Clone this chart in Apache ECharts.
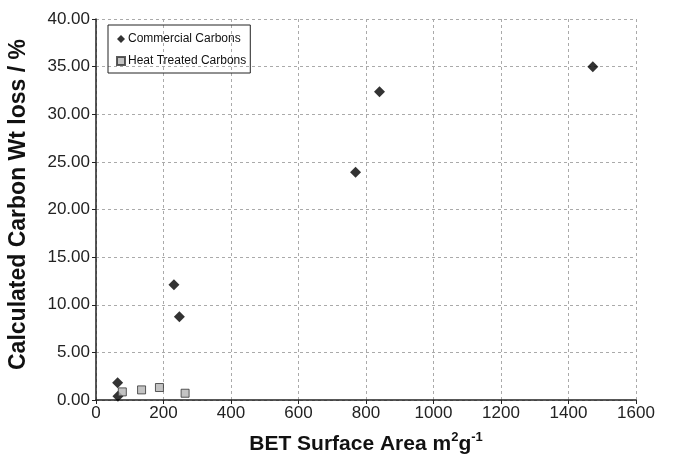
<!DOCTYPE html>
<html>
<head>
<meta charset="utf-8">
<script src="https://cdn.jsdelivr.net/npm/echarts@6/dist/echarts.min.js"></script>
<style>
html,body{margin:0;padding:0;background:#fff;}
#chart{width:680px;height:460px;}
</style>
</head>
<body>
<div id="chart"></div>
<script>
// 数据
var commercialArea = [1472, 840, 769, 231, 247, 64, 65];
var commercialLoss = [35.0, 32.35, 23.9, 12.1, 8.75, 1.8, 0.4];
var heatArea = [78, 135, 188, 264];
var heatLoss = [0.85, 1.06, 1.31, 0.71];
var seriesNames = ['Commercial Carbons', 'Heat Treated Carbons'];

function pairs(xs, ys){
	var out = [];
	for (var i = 0; i < xs.length; i++) out.push([xs[i], ys[i]]);
	return out;
}

var myChart = echarts.init(document.getElementById('chart'));
var option = {
	animation: false,
	backgroundColor: '#fff',
	grid: {
		left: 96,
		right: 44,
		top: 19,
		bottom: 60,
		containLabel: false,
		outerBoundsMode: 'none'
	},
	legend: {
		orient: 'vertical',
		left: 108,
		top: 25,
		borderColor: '#222',
		borderWidth: 1,
		padding: [8, 4, 6, 8],
		itemGap: 10,
		itemWidth: 8,
		itemHeight: 8,
		textStyle: {
			fontFamily: 'Liberation Sans',
			fontSize: 12,
			color: '#111',
			padding: [0, 0, 0, -2]
		},
		data: [
			{name: seriesNames[0], icon: 'diamond'},
			{name: seriesNames[1], icon: 'rect'}
		]
	},
	xAxis: {
		type: 'value',
		min: 0,
		max: 1600,
		interval: 200,
		name: '{b|BET Surface Area m}{sup|2}{b|g}{sup|-1}',
		nameLocation: 'middle',
		nameGap: 34,
		nameTextStyle: {
			rich: {
				b: {
					fontFamily: 'Liberation Sans',
					fontSize: 21,
					fontWeight: 'bold',
					color: '#111',
					lineHeight: 21,
					verticalAlign: 'bottom'
				},
				sup: {
					fontFamily: 'Liberation Sans',
					fontSize: 13,
					fontWeight: 'bold',
					color: '#111',
					lineHeight: 13,
					verticalAlign: 'bottom',
					padding: [0, 0, 11, 0]
				}
			}
		},
		axisLine: {show: true, lineStyle: {color: '#222', width: 1.5}},
		axisTick: {show: true, inside: false, length: 4, lineStyle: {color: '#222'}},
		axisLabel: {
			fontFamily: 'Liberation Sans',
			fontSize: 17,
			color: '#222',
			margin: 5,
			formatter: function(v){ return String(v); }
		},
		splitLine: {show: true, lineStyle: {color: '#aaa', type: [3, 3], width: 1}}
	},
	yAxis: {
		type: 'value',
		min: 0,
		max: 40,
		interval: 5,
		name: 'Calculated Carbon Wt loss / %',
		nameLocation: 'middle',
		nameGap: 66,
		nameTextStyle: {
			fontFamily: 'Liberation Sans',
			fontSize: 23,
			fontWeight: 'bold',
			color: '#111',
			padding: [0, 0, 0, 10]
		},
		axisLine: {show: true, lineStyle: {color: '#222', width: 1.5}},
		axisTick: {show: true, inside: false, length: 4, lineStyle: {color: '#222'}},
		axisLabel: {
			fontFamily: 'Liberation Sans',
			fontSize: 17,
			color: '#222',
			margin: 6,
			formatter: function(v){ return v.toFixed(2); }
		},
		splitLine: {show: true, lineStyle: {color: '#aaa', type: [3, 3], width: 1}}
	},
	series: [
		{
			name: seriesNames[0],
			type: 'scatter',
			symbol: 'diamond',
			symbolSize: 11,
			itemStyle: {color: '#000'},
			data: pairs(commercialArea, commercialLoss)
		},
		{
			name: seriesNames[1],
			type: 'scatter',
			symbol: 'rect',
			symbolSize: 8,
			itemStyle: {color: '#b4b4b4', borderColor: '#333', borderWidth: 1},
			data: pairs(heatArea, heatLoss)
		}
	]
};
myChart.setOption(option);
</script>
</body>
</html>
